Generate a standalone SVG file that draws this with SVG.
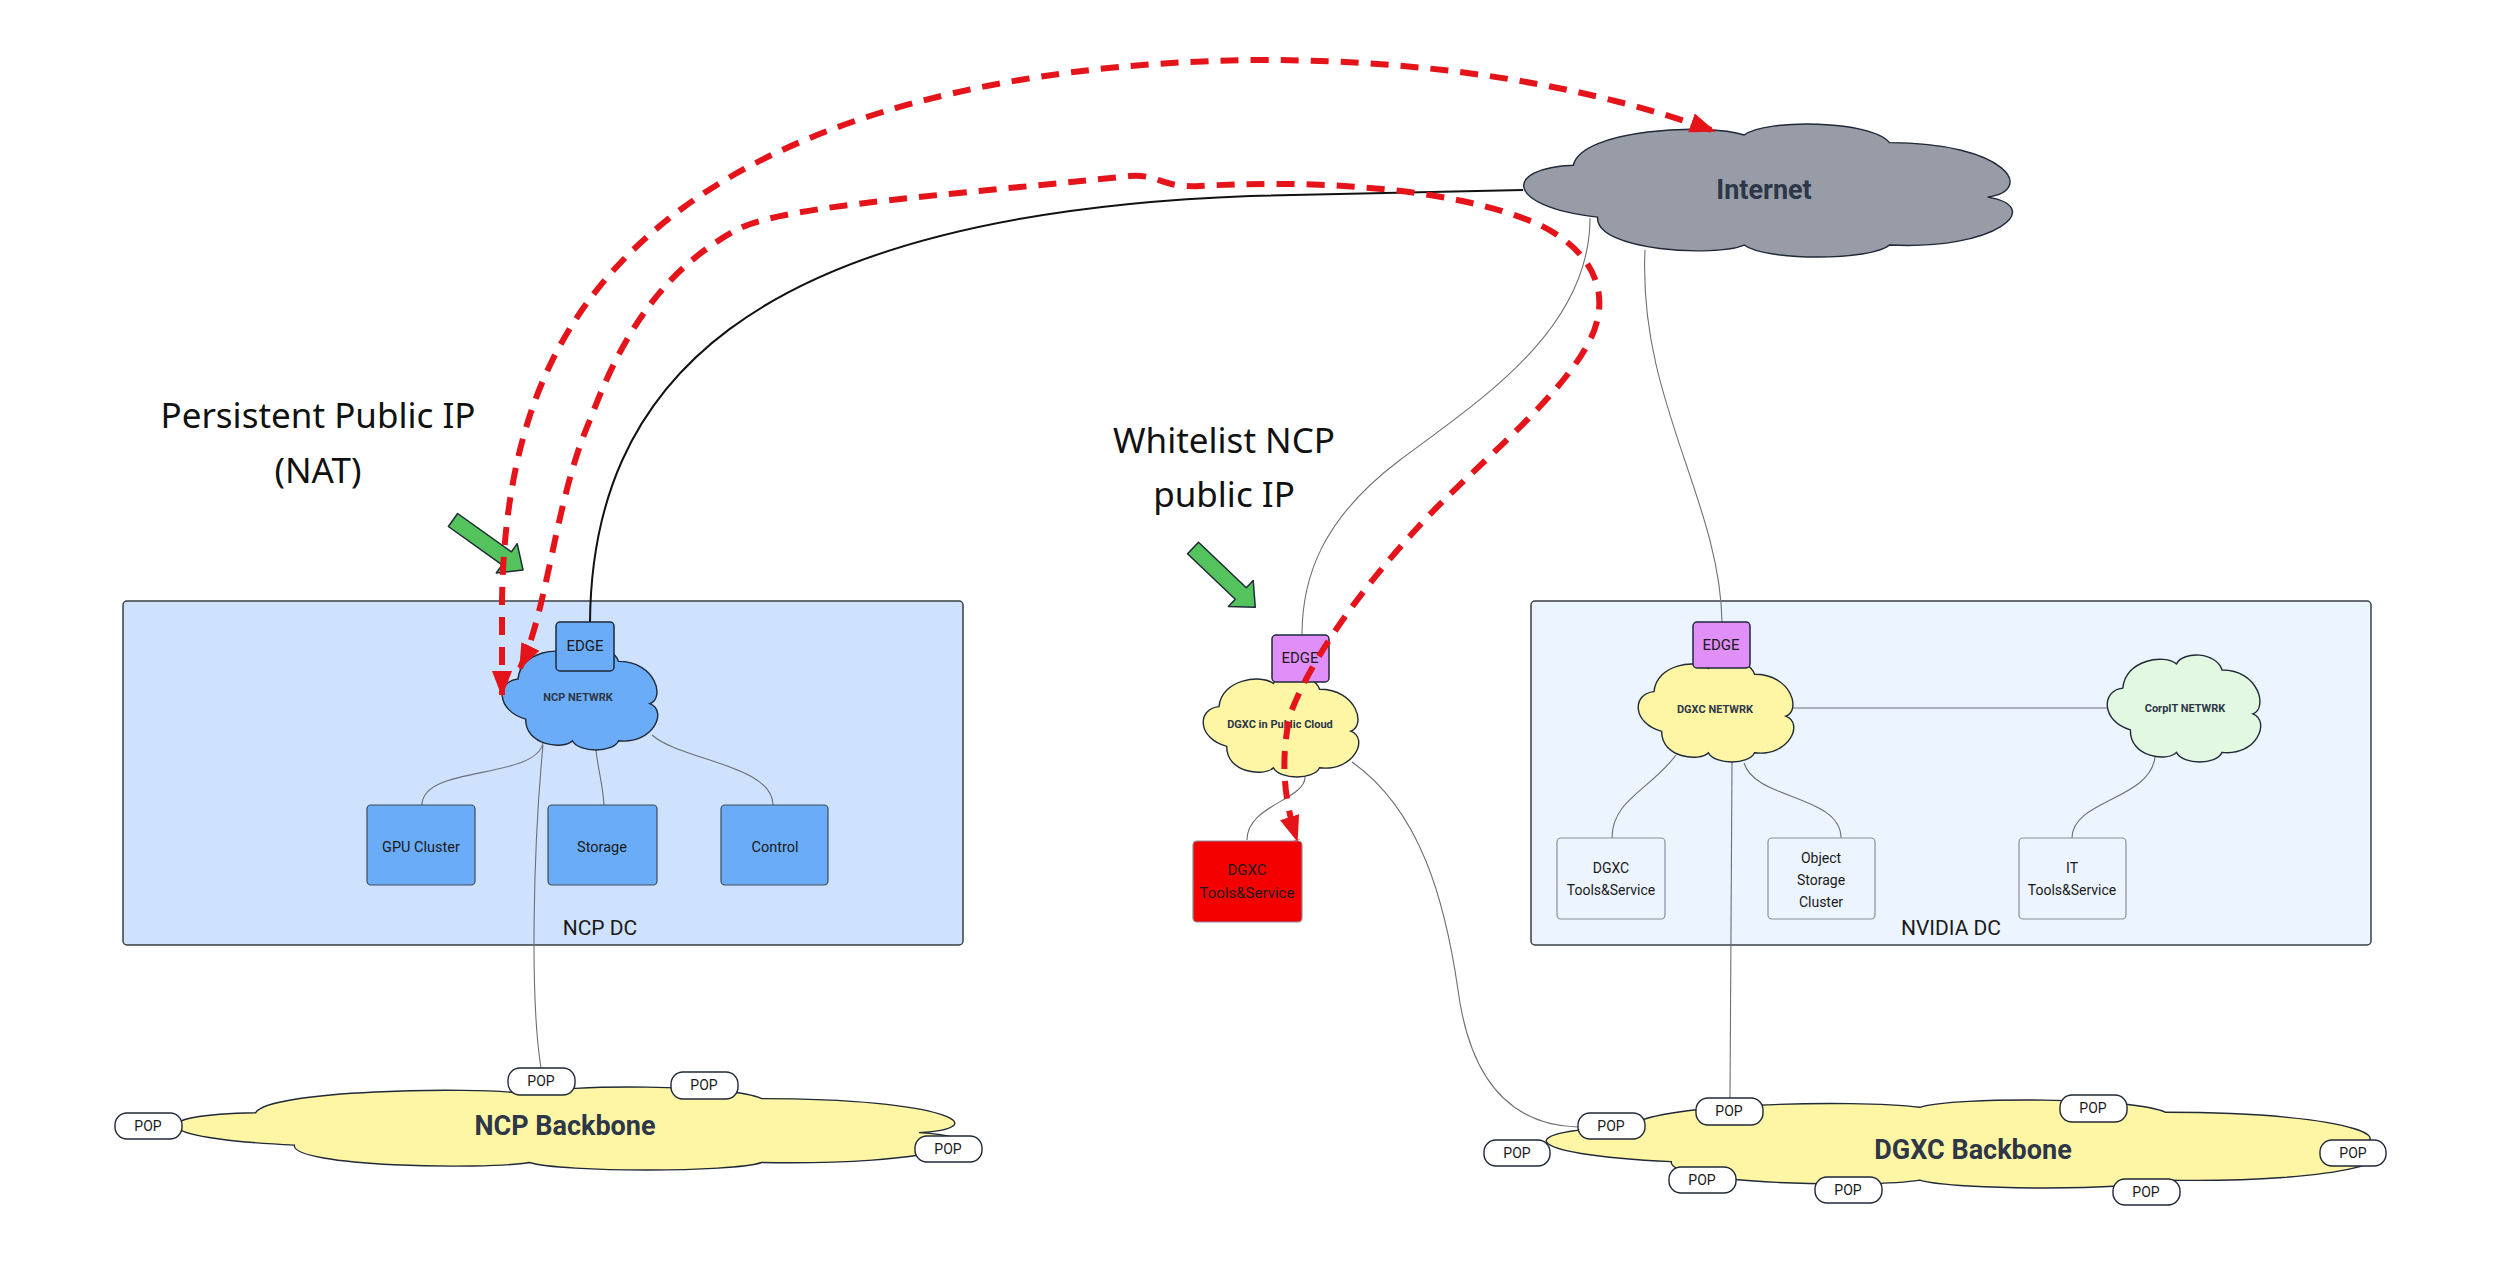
<svg xmlns="http://www.w3.org/2000/svg" width="2500" height="1265" viewBox="0 0 2500 1265">
<defs>
<style>
.bg{fill:#ffffff}
.dc-ncp{fill:#cfe2fd;stroke:#3a3f47;stroke-width:1.5}
.dc-nv{fill:#ebf4ff;stroke:#3a3f47;stroke-width:1.5}
.cloud{vector-effect:non-scaling-stroke;stroke:#1f2937;stroke-width:1.4}
.c-gray{fill:#979ca6}
.c-blue{fill:#6aacf8}
.c-yellow{fill:#fef6a4}
.c-green{fill:#e2f8e1}
.box-blue{fill:#6aacf8;stroke:#3f4a5a;stroke-width:1.2}
.box-edge-b{fill:#6aacf8;stroke:#1f2937;stroke-width:1.5}
.box-edge-v{fill:#e08ef8;stroke:#1f2937;stroke-width:1.5}
.box-light{fill:#ebf4ff;stroke:#8a8f98;stroke-width:1.2}
.box-red{fill:#f50000;stroke:#8a8f98;stroke-width:1.2}
.pop{fill:#ffffff;stroke:#1f2937;stroke-width:1.4}
.t{font-family:Roboto,"Liberation Sans",sans-serif;fill:#1a1a1a;text-anchor:middle}
.tb{font-family:Roboto,"Liberation Sans",sans-serif;font-weight:700;fill:#2d3748;text-anchor:middle}
.lbl{font-family:"Noto Sans","Liberation Sans",sans-serif;fill:#111;text-anchor:middle;font-size:35px}
.thin{fill:none;stroke:#6b6f76;stroke-width:1.1}
.black{fill:none;stroke:#111;stroke-width:2}
.flow{fill:none;stroke:#e5141b;stroke-width:6;stroke-dasharray:18 12}
.garrow{fill:#55c35d;stroke:#1f2937;stroke-width:1.5;stroke-linejoin:round}
</style>
<marker id="redhead" viewBox="0 0 26 22" refX="24" refY="11" markerWidth="26" markerHeight="22" markerUnits="userSpaceOnUse" orient="auto-start-reverse">
<path d="M0,1 L26,11 L0,21 Z" fill="#e5141b"/>
</marker>
</defs>
<rect class="bg" x="0" y="0" width="2500" height="1265"/>

<g id="ncp-dc">
<rect class="dc-ncp" x="123" y="601" width="840" height="344" rx="4"/>
<text class="t" x="600" y="935" font-size="21">NCP DC</text>
</g>
<g id="nvidia-dc">
<rect class="dc-nv" x="1531" y="601" width="840" height="344" rx="4"/>
<text class="t" x="1951" y="935" font-size="21">NVIDIA DC</text>
</g>

<g id="ncp-backbone">
<path class="cloud c-yellow" transform="translate(175,1087) scale(7.75,0.83)" d="M10.4,31 C-4,33 -4,62 15.4,70 C15,96 40,100 45.7,91 C50,103 72,103 75.7,91 C98,95 108,62 96,55 C106,50 100,14 75.7,14 C72,-3 50,-4 45.7,8.3 C38,-1 12,4 10.4,31 Z"/>
<text class="tb" x="565" y="1135" font-size="27">NCP Backbone</text>
</g>
<g id="dgxc-backbone">
<path class="cloud c-yellow" transform="translate(1545,1100) scale(8.2,0.88)" d="M10.4,31 C-4,33 -4,62 15.4,70 C15,96 40,100 45.7,91 C50,103 72,103 75.7,91 C98,95 108,62 96,55 C106,50 100,14 75.7,14 C72,-3 50,-4 45.7,8.3 C38,-1 12,4 10.4,31 Z"/>
<text class="tb" x="1973" y="1159" font-size="27">DGXC Backbone</text>
</g>

<g id="connectors">
<path class="black" d="M590,622 C592,390 740,215 1250,196 L1523,190"/>
<path class="thin" d="M543,743 C535,780 422,765 422,805"/>
<path class="thin" d="M596,750 C598,770 603,785 604,805"/>
<path class="thin" d="M652,735 C680,760 773,765 773,805"/>
<path class="thin" d="M543,745 C533,850 530,1000 541,1068"/>
<path class="thin" d="M1590,218 C1590,330 1480,400 1400,460 C1320,520 1302,580 1302,635"/>
<path class="thin" d="M1645,250 C1638,400 1720,500 1722,622"/>
<path class="thin" d="M1305,777 C1305,800 1247,805 1247,840"/>
<path class="thin" d="M1352,762 C1420,810 1445,900 1458,990 C1470,1080 1510,1125 1578,1127"/>
<path class="thin" d="M1676,755 C1650,790 1612,800 1612,838"/>
<path class="thin" d="M1744,763 C1755,800 1841,795 1841,838"/>
<path class="thin" d="M1732,762 C1731,900 1730,1000 1730,1098"/>
<path class="thin" d="M2155,757 C2150,800 2072,800 2072,838"/>
<path class="thin" d="M1792,708 L2107,708"/>
</g>

<g id="internet">
<path class="cloud c-gray" transform="translate(1523,124) scale(4.84,1.33)" d="M10.4,31 C-4,33 -4,62 15.4,70 C15,96 40,100 45.7,91 C50,103 72,103 75.7,91 C98,95 108,62 96,55 C106,50 100,14 75.7,14 C72,-3 50,-4 45.7,8.3 C38,-1 12,4 10.4,31 Z"/>
<text class="tb" x="1764" y="199" font-size="27">Internet</text>
</g>

<g id="ncp-netwrk">
<path class="cloud c-blue" transform="translate(502,647) scale(1.54,1.03)" d="M10.4,31 C-4,33 -4,62 15.4,70 C15,96 40,100 45.7,91 C50,103 72,103 75.7,91 C98,95 108,62 96,55 C106,50 100,14 75.7,14 C72,-3 50,-4 45.7,8.3 C38,-1 12,4 10.4,31 Z"/>
<text class="tb" x="578" y="701" font-size="11" fill="#2b3545">NCP NETWRK</text>
</g>
<g id="ncp-edge">
<rect class="box-edge-b" x="556" y="622" width="58" height="49" rx="4"/>
<text class="t" x="585" y="651" font-size="15">EDGE</text>
</g>
<g id="gpu-cluster">
<rect class="box-blue" x="367" y="805" width="108" height="80" rx="4"/>
<text class="t" x="421" y="852" font-size="14.5">GPU Cluster</text>
</g>
<g id="storage">
<rect class="box-blue" x="548" y="805" width="109" height="80" rx="4"/>
<text class="t" x="602" y="852" font-size="14.5">Storage</text>
</g>
<g id="control">
<rect class="box-blue" x="721" y="805" width="107" height="80" rx="4"/>
<text class="t" x="775" y="852" font-size="14.5">Control</text>
</g>

<g id="dgxc-public-cloud">
<path class="cloud c-yellow" transform="translate(1203,675) scale(1.54,1.02)" d="M10.4,31 C-4,33 -4,62 15.4,70 C15,96 40,100 45.7,91 C50,103 72,103 75.7,91 C98,95 108,62 96,55 C106,50 100,14 75.7,14 C72,-3 50,-4 45.7,8.3 C38,-1 12,4 10.4,31 Z"/>
<text class="tb" x="1280" y="728" font-size="11">DGXC in Public Cloud</text>
</g>
<g id="dgxc-public-edge">
<rect class="box-edge-v" x="1272" y="635" width="57" height="47" rx="4"/>
<text class="t" x="1300" y="663" font-size="15">EDGE</text>
</g>
<g id="dgxc-tools-red">
<rect class="box-red" x="1193" y="841" width="109" height="81" rx="4"/>
<text class="t" x="1247" y="875" font-size="15">DGXC</text>
<text class="t" x="1247" y="898" font-size="15">Tools&amp;Service</text>
</g>

<g id="dgxc-netwrk">
<path class="cloud c-yellow" transform="translate(1638,660) scale(1.54,1.02)" d="M10.4,31 C-4,33 -4,62 15.4,70 C15,96 40,100 45.7,91 C50,103 72,103 75.7,91 C98,95 108,62 96,55 C106,50 100,14 75.7,14 C72,-3 50,-4 45.7,8.3 C38,-1 12,4 10.4,31 Z"/>
<text class="tb" x="1715" y="713" font-size="11">DGXC NETWRK</text>
</g>
<g id="nvidia-edge">
<rect class="box-edge-v" x="1693" y="622" width="57" height="46" rx="4"/>
<text class="t" x="1721" y="650" font-size="15">EDGE</text>
</g>
<g id="corpit-netwrk">
<path class="cloud c-green" transform="translate(2107,655) scale(1.52,1.07)" d="M10.4,31 C-4,33 -4,62 15.4,70 C15,96 40,100 45.7,91 C50,103 72,103 75.7,91 C98,95 108,62 96,55 C106,50 100,14 75.7,14 C72,-3 50,-4 45.7,8.3 C38,-1 12,4 10.4,31 Z"/>
<text class="tb" x="2185" y="712" font-size="11">CorpIT NETWRK</text>
</g>
<g id="dgxc-tools">
<rect class="box-light" x="1557" y="838" width="108" height="81" rx="4"/>
<text class="t" x="1611" y="873" font-size="14">DGXC</text>
<text class="t" x="1611" y="895" font-size="14">Tools&amp;Service</text>
</g>
<g id="object-storage">
<rect class="box-light" x="1768" y="838" width="107" height="81" rx="4"/>
<text class="t" x="1821" y="863" font-size="14">Object</text>
<text class="t" x="1821" y="885" font-size="14">Storage</text>
<text class="t" x="1821" y="907" font-size="14">Cluster</text>
</g>
<g id="it-tools">
<rect class="box-light" x="2019" y="838" width="107" height="81" rx="4"/>
<text class="t" x="2072" y="873" font-size="14">IT</text>
<text class="t" x="2072" y="895" font-size="14">Tools&amp;Service</text>
</g>

<g id="ncp-pops">
<rect class="pop" x="508" y="1068" width="67" height="27" rx="12"/><text class="t" x="541" y="1086" font-size="14">POP</text>
<rect class="pop" x="671" y="1072" width="67" height="27" rx="12"/><text class="t" x="704" y="1090" font-size="14">POP</text>
<rect class="pop" x="115" y="1113" width="67" height="26" rx="12"/><text class="t" x="148" y="1131" font-size="14">POP</text>
<rect class="pop" x="915" y="1136" width="67" height="26" rx="12"/><text class="t" x="948" y="1154" font-size="14">POP</text>
</g>
<g id="dgxc-pops">
<rect class="pop" x="1578" y="1113" width="67" height="26" rx="12"/><text class="t" x="1611" y="1131" font-size="14">POP</text>
<rect class="pop" x="1696" y="1098" width="67" height="27" rx="12"/><text class="t" x="1729" y="1116" font-size="14">POP</text>
<rect class="pop" x="2060" y="1095" width="67" height="27" rx="12"/><text class="t" x="2093" y="1113" font-size="14">POP</text>
<rect class="pop" x="1484" y="1140" width="66" height="26" rx="12"/><text class="t" x="1517" y="1158" font-size="14">POP</text>
<rect class="pop" x="2320" y="1140" width="66" height="26" rx="12"/><text class="t" x="2353" y="1158" font-size="14">POP</text>
<rect class="pop" x="1669" y="1167" width="67" height="26" rx="12"/><text class="t" x="1702" y="1185" font-size="14">POP</text>
<rect class="pop" x="1815" y="1177" width="67" height="26" rx="12"/><text class="t" x="1848" y="1195" font-size="14">POP</text>
<rect class="pop" x="2113" y="1179" width="67" height="26" rx="12"/><text class="t" x="2146" y="1197" font-size="14">POP</text>
</g>

<g id="label-nat">
<text class="lbl" x="318" y="428">Persistent Public IP</text>
<text class="lbl" x="318" y="483">(NAT)</text>
<polygon class="garrow" transform="translate(453,520) rotate(35.5)" points="0,-8 66,-8 66,-18 86,0 66,18 66,8 0,8"/>
</g>
<g id="label-whitelist">
<text class="lbl" x="1224" y="453">Whitelist NCP</text>
<text class="lbl" x="1224" y="507">public IP</text>
<polygon class="garrow" transform="translate(1193,548) rotate(43.6)" points="0,-8 66,-8 66,-18 86,0 66,18 66,8 0,8"/>
</g>

<g id="flows">
<path class="flow" marker-start="url(#redhead)" marker-end="url(#redhead)" d="M502,695 L502,600 C505,420 560,300 680,210 C800,120 1000,62 1260,60 C1450,60 1600,90 1714,131"/>
<path class="flow" marker-start="url(#redhead)" marker-end="url(#redhead)" d="M520,668 C548,610 555,500 590,420 C620,340 660,270 740,228 C790,205 950,195 1130,176 C1160,174 1160,188 1200,186 C1300,180 1450,185 1540,225 C1600,255 1610,300 1590,340 C1560,400 1470,470 1420,525 C1360,590 1310,660 1290,715 C1280,760 1284,800 1297,840"/>
</g>
</svg>
